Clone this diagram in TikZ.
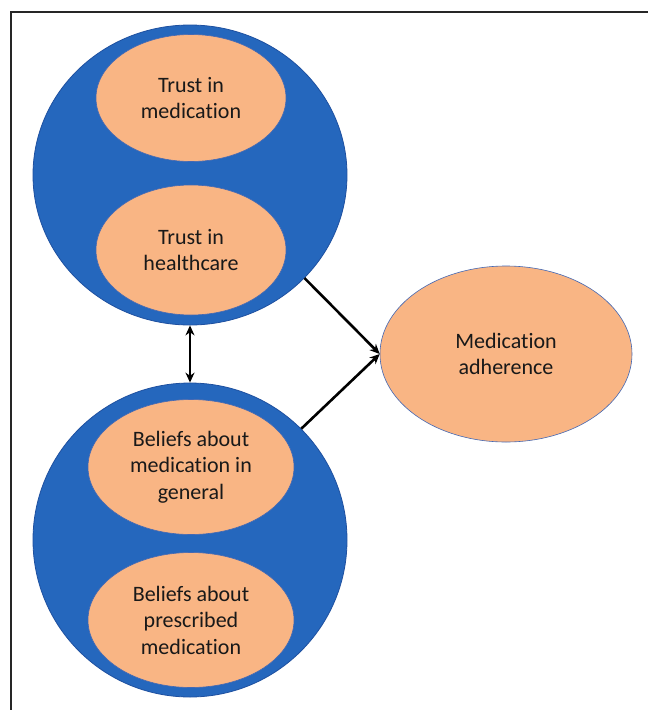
\documentclass[tikz,border=0pt]{standalone}
\usepackage{fontspec}
\setmainfont{Carlito}[Ligatures=NoCommon]
\usetikzlibrary{shapes.geometric,arrows.meta}
\definecolor{bigblue}{RGB}{37,103,189}
\definecolor{bigedge}{RGB}{30,80,160}
\definecolor{peach}{RGB}{249,181,132}
\definecolor{thinblue}{RGB}{68,104,180}
\tikzset{
  group/.style={ellipse, fill=bigblue, draw=bigedge, line width=0.8pt, inner sep=0pt},
  factor/.style={ellipse, fill=peach, draw=thinblue, line width=0.6pt, inner sep=0pt,
    align=center, font=\fontsize{22}{26.5}\selectfont, text=black!90},
  link/.style={line width=2.6pt, -{Stealth[length=10pt,width=9pt]}},
}
\begin{document}
\begin{tikzpicture}[x=1pt,y=-1pt]
\useasboundingbox (0,0) rectangle (648,710);
\fill[white] (0,0) rectangle (648,710);
\draw[line width=2.2pt, black!85] (11,710) -- (11,12) -- (648,12);
% groups
\node[group, minimum width=314pt, minimum height=300pt] (gtop) at (190,175) {};
\node[group, minimum width=314pt, minimum height=314pt] (gbot) at (190,540) {};
% factors
\node[factor, minimum width=190pt, minimum height=127pt] (tmed) at (191,98) {Trust in\\medication};
\node[factor, minimum width=190pt, minimum height=130pt] (thc) at (191,250) {Trust in\\healthcare};
\node[factor, minimum width=206pt, minimum height=135pt] (bgen) at (191,467) {Beliefs about\\medication in\\general};
\node[factor, minimum width=206pt, minimum height=135pt] (bpre) at (191,620) {Beliefs about\\prescribed\\medication};
\node[factor, minimum width=252pt, minimum height=176pt] (adh) at (506,354) {Medication\\adherence};
% connectors
\draw[link, {Stealth[length=10pt,width=9pt]}-{Stealth[length=10pt,width=9pt]}] (gtop.south) -- (gbot.north);
\draw[link] (gtop.-42) -- (adh.west);
\draw[link] (gbot.45) -- (adh.west);
\end{tikzpicture}
\end{document}
